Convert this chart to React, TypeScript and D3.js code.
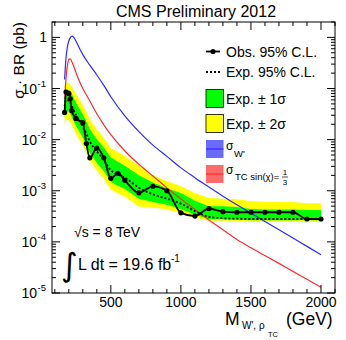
import React from "react";
import * as d3 from "d3";

// limit points (GeV, pb)
const masses = [170, 180, 200, 210, 220, 250, 300, 325, 350, 400, 450, 500, 550, 600, 700, 800, 900, 1000, 1100, 1200, 1300, 1400, 1500, 1600, 1700, 1800, 1900, 2000];
const observed = [0.034, 0.085, 0.08, 0.063, 0.037, 0.026, 0.0215, 0.0084, 0.0044, 0.0068, 0.0044, 0.00175, 0.0022, 0.0016, 0.00091, 0.00122, 0.001, 0.00037, 0.00032, 0.00045, 0.00039, 0.00038, 0.00038, 0.00038, 0.00038, 0.00038, 0.00028, 0.00028];
const expected = [0.045, 0.06, 0.058, 0.053, 0.047, 0.031, 0.018, 0.013, 0.0092, 0.0059, 0.004, 0.0025, 0.0021, 0.0018, 0.00115, 0.00085, 0.0007, 0.00056, 0.0004, 0.00031, 0.00029, 0.000285, 0.00028, 0.00028, 0.00028, 0.00028, 0.00028, 0.00028];
const plus2 = [0.11, 0.13, 0.13, 0.12, 0.11, 0.08, 0.047, 0.035, 0.025, 0.016, 0.0108, 0.0068, 0.0057, 0.0048, 0.0031, 0.002, 0.00155, 0.00123, 0.0009, 0.00072, 0.0007, 0.00068, 0.00062, 0.00061, 0.00061, 0.0006, 0.00057, 0.00057];
const plus1 = [0.075, 0.095, 0.095, 0.088, 0.08, 0.054, 0.031, 0.023, 0.016, 0.0103, 0.007, 0.0045, 0.0037, 0.0031, 0.002, 0.00145, 0.00112, 0.0009, 0.00064, 0.0005, 0.0005, 0.00048, 0.00044, 0.00043, 0.00043, 0.00043, 0.00042, 0.00042];
const minus1 = [0.027, 0.036, 0.035, 0.032, 0.028, 0.019, 0.011, 0.0078, 0.0055, 0.0035, 0.0024, 0.0015, 0.00126, 0.00108, 0.0007, 0.0006, 0.00053, 0.00044, 0.00034, 0.00028, 0.000275, 0.00027, 0.000266, 0.000266, 0.000266, 0.000266, 0.000266, 0.000266];
const minus2 = [0.019, 0.025, 0.024, 0.022, 0.02, 0.013, 0.0076, 0.0055, 0.0039, 0.0025, 0.0017, 0.00105, 0.00088, 0.00076, 0.00049, 0.00047, 0.00043, 0.00036, 0.0003, 0.00026, 0.00026, 0.000255, 0.00025, 0.00025, 0.00025, 0.00025, 0.00025, 0.00025];

// theory cross sections
const theoryMass = [170, 180, 190, 200, 210, 225, 250, 275, 300, 350, 400, 450, 500, 600, 700, 800, 900, 1000, 1100, 1200, 1300, 1400, 1500, 1600, 1700, 1800, 1900, 2000];
const sigmaWprime = [0.15, 0.4, 0.65, 0.85, 0.98, 1.06, 0.86, 0.62, 0.46, 0.286, 0.184, 0.115, 0.069, 0.029, 0.0143, 0.0078, 0.0047, 0.0028, 0.0018, 0.00118, 0.00078, 0.00053, 0.000366, 0.000251, 0.000173, 0.000119, 0.0000817, 0.0000562];
const sigmaTC = [0.062, 0.16, 0.28, 0.37, 0.38, 0.32, 0.21, 0.14, 0.1, 0.057, 0.032, 0.0195, 0.0125, 0.006, 0.0033, 0.00194, 0.00114, 0.00069, 0.00043, 0.000268, 0.000172, 0.000111, 0.0000765, 0.000054, 0.000038, 0.0000265, 0.0000185, 0.0000129];

const xMajor = [500, 1000, 1500, 2000];
const yDecades = [-5, -4, -3, -2, -1, 0];

const W = 346, H = 340;
const X0 = 52, X1 = 335, Y0 = 22, Y1 = 293;
const FONT = "'Liberation Sans', Arial, Helvetica, sans-serif";

export default function App() {
  const x = d3.scaleLinear().domain([80, 2100]).range([X0, X1]);
  const y = d3.scaleLog().domain([1e-5, 2]).range([Y1, Y0]);

  const idx = masses.map((_, i) => i);
  const band = (lo: number[], hi: number[]) =>
    d3.area<number>().x(i => x(masses[i])).y0(i => y(lo[i])).y1(i => y(hi[i]))(idx) || "";
  const obsLine = d3.line<number>().x(i => x(masses[i])).y(i => y(observed[i])).curve(d3.curveMonotoneX)(idx) || "";
  const expLine = d3.line<number>().x(i => x(masses[i])).y(i => y(expected[i])).curve(d3.curveMonotoneX)(idx) || "";
  const tIdx = theoryMass.map((_, i) => i);
  const theory = (vals: number[]) =>
    d3.line<number>().x(i => x(theoryMass[i])).y(i => y(vals[i])).curve(d3.curveMonotoneX)(tIdx) || "";

  // ticks
  const xTicks = d3.range(100, 2101, 100);
  const yMinor: number[] = [];
  yDecades.forEach(d => {
    for (let k = 2; k <= 9; k++) {
      const v = k * Math.pow(10, d);
      if (v <= 2) yMinor.push(v);
    }
  });

  const legX = 206, legT = 226;

  return (
    <svg width={W} height={H} style={{ position: "absolute", left: 0, top: 0, background: "#fff" }} fontFamily={FONT}>
      <defs>
        <clipPath id="plot">
          <rect x={X0} y={Y0} width={X1 - X0} height={Y1 - Y0} />
        </clipPath>
      </defs>

      <text x={196} y={17} fontSize={16} textAnchor="middle">CMS Preliminary 2012</text>

      <g clipPath="url(#plot)">
        <path d={band(minus2, plus2)} fill="#ffff00" />
        <path d={band(minus1, plus1)} fill="#00ff00" />
        <path d={theory(sigmaWprime)} fill="none" stroke="#2b2bff" strokeWidth={1.2} />
        <path d={theory(sigmaTC)} fill="none" stroke="#ff2b2b" strokeWidth={1.2} />
        <path d={expLine} fill="none" stroke="#000" strokeWidth={1.8} strokeDasharray="2,2" />
        <path d={obsLine} fill="none" stroke="#000" strokeWidth={1.8} />
        {masses.map((m, i) => (
          <circle key={m} cx={x(m)} cy={y(observed[i])} r={2.6} fill="#000" />
        ))}
      </g>

      {/* frame and ticks */}
      <rect x={X0} y={Y0} width={X1 - X0} height={Y1 - Y0} fill="none" stroke="#000" strokeWidth={1} />
      {xTicks.map(t => {
        const len = t % 500 === 0 ? 8 : 4;
        return (
          <g key={"xt" + t}>
            <line x1={x(t)} x2={x(t)} y1={Y1} y2={Y1 - len} stroke="#000" />
            <line x1={x(t)} x2={x(t)} y1={Y0} y2={Y0 + len} stroke="#000" />
          </g>
        );
      })}
      {yDecades.map(d => {
        const v = Math.pow(10, d);
        return (
          <g key={"yd" + d}>
            <line x1={X0} x2={X0 + 8} y1={y(v)} y2={y(v)} stroke="#000" />
            <line x1={X1} x2={X1 - 8} y1={y(v)} y2={y(v)} stroke="#000" />
          </g>
        );
      })}
      {yMinor.map(v => (
        <g key={"ym" + v}>
          <line x1={X0} x2={X0 + 4} y1={y(v)} y2={y(v)} stroke="#000" />
          <line x1={X1} x2={X1 - 4} y1={y(v)} y2={y(v)} stroke="#000" />
        </g>
      ))}

      {/* tick labels */}
      {xMajor.map(t => (
        <text key={"xl" + t} x={x(t)} y={307} fontSize={14} textAnchor="middle">{t}</text>
      ))}
      {yDecades.map(d => {
        const yy = y(Math.pow(10, d));
        if (d === 0) return <text key="yl0" x={47} y={yy + 5} fontSize={14} textAnchor="end">1</text>;
        return (
          <g key={"yl" + d}>
            <text x={37} y={yy + 5} fontSize={14} textAnchor="end">10</text>
            <text x={37.5} y={yy - 2} fontSize={9.5}>{d}</text>
          </g>
        );
      })}

      {/* axis titles */}
      <text transform={`translate(24,${Y0}) rotate(-90)`} fontSize={15.5} textAnchor="end">σ · BR (pb)</text>
      <text x={225} y={325} fontSize={17.5}>M</text>
      <text x={242} y={329} fontSize={10}>W', ρ</text>
      <text x={268} y={337} fontSize={7.5}>TC</text>
      <text x={286} y={325} fontSize={17.5}>(GeV)</text>

      {/* annotations */}
      <text x={74} y={237} fontSize={14}>√s = 8 TeV</text>
      <text x={61} y={276} fontSize={32} fontFamily="'DejaVu Sans'">∫</text>
      <text x={78} y={270} fontSize={16}>L dt = 19.6 fb</text>
      <text x={171} y={262} fontSize={10}>-1</text>

      {/* legend */}
      <line x1={legX} x2={legX + 14} y1={51.5} y2={51.5} stroke="#000" strokeWidth={1.8} />
      <circle cx={legX + 7} cy={51.5} r={2.6} fill="#000" />
      <text x={legT} y={56.5} fontSize={14}>Obs. 95% C.L.</text>

      <line x1={legX} x2={legX + 14} y1={72} y2={72} stroke="#000" strokeWidth={1.8} strokeDasharray="2,2" />
      <text x={legT} y={77} fontSize={14}>Exp. 95% C.L.</text>

      <rect x={legX} y={89.5} width={17.5} height={18} fill="#00ff00" stroke="#000" strokeWidth={0.8} />
      <text x={legT} y={103.5} fontSize={14}>Exp. ± 1σ</text>

      <rect x={legX} y={114.5} width={17.5} height={18} fill="#ffff00" stroke="#000" strokeWidth={0.8} />
      <text x={legT} y={128.5} fontSize={14}>Exp. ± 2σ</text>

      <rect x={legX} y={140} width={17.5} height={18} fill="#6a6aff" />
      <line x1={legX} x2={legX + 17.5} y1={149} y2={149} stroke="#2b2bff" strokeWidth={1.2} />
      <text x={legT} y={150} fontSize={12}>σ</text>
      <text x={234} y={157} fontSize={9.5}>W'</text>

      <rect x={legX} y={165} width={17.5} height={18} fill="#ff6a6a" />
      <line x1={legX} x2={legX + 17.5} y1={174} y2={174} stroke="#ff2b2b" strokeWidth={1.2} />
      <text x={legT} y={174} fontSize={12}>σ</text>
      <text x={235} y={180} fontSize={9.5}>TC sin(χ)=</text>
      <text x={285} y={175} fontSize={8} textAnchor="middle">1</text>
      <line x1={282} x2={288} y1={177} y2={177} stroke="#000" strokeWidth={0.7} />
      <text x={285} y={185} fontSize={8} textAnchor="middle">3</text>
    </svg>
  );
}
